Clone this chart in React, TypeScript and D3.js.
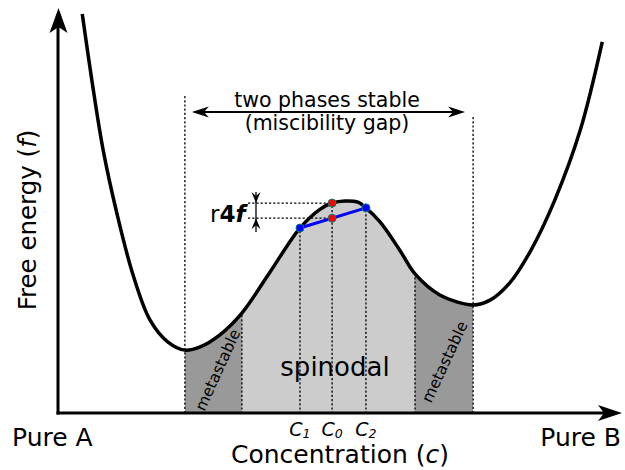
import React from 'react';
import * as d3 from 'd3';

// Free-energy curve samples: concentration c (0..1) and free energy f (0..1)
const curveC = [0.043, 0.06, 0.08, 0.105, 0.133, 0.163, 0.195, 0.225, 0.252, 0.287, 0.326, 0.376, 0.429, 0.465, 0.486, 0.509, 0.532, 0.546, 0.571, 0.606, 0.633, 0.677, 0.736, 0.766, 0.801, 0.837, 0.881, 0.926, 0.965];
const curveF = [0.99, 0.826, 0.653, 0.492, 0.343, 0.231, 0.176, 0.156, 0.164, 0.194, 0.248, 0.35, 0.459, 0.506, 0.521, 0.526, 0.523, 0.509, 0.474, 0.404, 0.345, 0.293, 0.268, 0.28, 0.323, 0.4, 0.529, 0.702, 0.921];

// Key concentrations
const binodal = [0.225, 0.736];
const spinodal = [0.326, 0.633];
const c1Idx = 12; // c1
const c0Idx = 14; // c0
const c2Idx = 17; // c2

const W = 625;
const H = 470;
const FONT = 'DejaVu Sans, sans-serif';

export default function App() {
  const x = d3.scaleLinear().domain([0, 1]).range([58, 622]);
  const y = d3.scaleLinear().domain([0, 1]).range([413, 10]);
  const pts: [number, number][] = curveC.map((c, i) => [c, curveF[i]]);
  const cr = d3.curveCatmullRom.alpha(0.5);
  const line = d3.line<[number, number]>().x(d => x(d[0])).y(d => y(d[1])).curve(cr);
  const area = d3.area<[number, number]>().x(d => x(d[0])).y0(y(0)).y1(d => y(d[1])).curve(cr);
  const linePath = line(pts) || '';
  const areaPath = area(pts) || '';

  const c1 = curveC[c1Idx], c0 = curveC[c0Idx], c2 = curveC[c2Idx];
  const f1 = curveF[c1Idx], f0 = curveF[c0Idx], f2 = curveF[c2Idx];
  const fChord = f1 + (c0 - c1) / (c2 - c1) * (f2 - f1);

  const x0 = x(0), yBase = y(0);
  const axisTop = y(1) - 2;
  const axisRight = x(1);

  const dot = { stroke: '#000', strokeWidth: 1.3, strokeDasharray: '2.2,2', fill: 'none' } as const;

  const arrowHead = (tx: number, ty: number, ang: number, len: number, hw: number, notch: number) => {
    const ux = Math.cos(ang), uy = Math.sin(ang);
    const px = -uy, py = ux;
    const bx = tx - ux * len, by = ty - uy * len;
    const nx = tx - ux * (len - notch), ny = ty - uy * (len - notch);
    return `M${tx},${ty}L${bx + px * hw},${by + py * hw}L${nx},${ny}L${bx - px * hw},${by - py * hw}Z`;
  };

  const gapY = 112;
  const gapL = x(binodal[0]) + 7;
  const gapR = x(binodal[1]) - 8;
  const dfX = 256;

  return (
    <svg width={W} height={H} style={{ position: 'absolute', left: 0, top: 0, background: '#fff' }} fontFamily={FONT}>
      <defs>
        <clipPath id="under"><path d={areaPath} /></clipPath>
        <clipPath id="meta1"><rect x={x(binodal[0])} y={0} width={x(spinodal[0]) - x(binodal[0])} height={H} /></clipPath>
        <clipPath id="spin"><rect x={x(spinodal[0])} y={0} width={x(spinodal[1]) - x(spinodal[0])} height={H} /></clipPath>
        <clipPath id="meta2"><rect x={x(spinodal[1])} y={0} width={x(binodal[1]) - x(spinodal[1])} height={H} /></clipPath>
      </defs>

      {/* fills */}
      <path d={areaPath} fill="#999999" clipPath="url(#meta1)" />
      <path d={areaPath} fill="#cccccc" clipPath="url(#spin)" />
      <path d={areaPath} fill="#999999" clipPath="url(#meta2)" />

      {/* dotted verticals under curve */}
      <g clipPath="url(#under)">
        {[spinodal[0], spinodal[1], c1, c0, c2].map((c, i) => (
          <line key={i} x1={x(c)} x2={x(c)} y1={0} y2={yBase} style={dot} />
        ))}
      </g>
      {/* binodal dotted verticals */}
      <line x1={x(binodal[0])} x2={x(binodal[0])} y1={96} y2={yBase} style={dot} />
      <line x1={x(binodal[1])} x2={x(binodal[1])} y1={117} y2={yBase} style={dot} />

      {/* horizontal dotted lines for Δf */}
      <line x1={248} x2={x(c0)} y1={y(f0)} y2={y(f0)} style={dot} />
      <line x1={248} x2={x(c0)} y1={y(fChord)} y2={y(fChord)} style={dot} />

      {/* Δf arrows */}
      <line x1={dfX} x2={dfX} y1={192} y2={232} stroke="#000" strokeWidth={1.3} />
      <path d={arrowHead(dfX, y(f0), Math.PI / 2, 11, 4.5, 4)} fill="#000" />
      <path d={arrowHead(dfX, y(fChord), -Math.PI / 2, 11, 4.5, 4)} fill="#000" />

      {/* miscibility gap arrow */}
      <line x1={gapL + 5} x2={gapR - 5} y1={gapY} y2={gapY} stroke="#000" strokeWidth={2} />
      <path d={arrowHead(gapL, gapY, Math.PI, 17, 5.5, 5)} fill="#000" />
      <path d={arrowHead(gapR, gapY, 0, 17, 5.5, 5)} fill="#000" />
      <text x={327} y={107} fontSize={20.5} textAnchor="middle">two phases stable</text>
      <text x={327} y={130} fontSize={20.5} textAnchor="middle">(miscibility gap)</text>

      {/* curve */}
      <path d={linePath} fill="none" stroke="#000" strokeWidth={3.5} strokeLinejoin="round" />

      {/* tangent chord */}
      <line x1={x(c1)} y1={y(f1)} x2={x(c2)} y2={y(f2)} stroke="#0000ff" strokeWidth={3} />
      <circle cx={x(c1)} cy={y(f1)} r={4} fill="#0000ff" stroke="#008080" strokeWidth={1} />
      <circle cx={x(c2)} cy={y(f2)} r={4} fill="#0000ff" stroke="#008080" strokeWidth={1} />
      <circle cx={x(c0)} cy={y(f0)} r={4} fill="#ff0000" stroke="#008080" strokeWidth={1} />
      <circle cx={x(c0)} cy={y(fChord)} r={4} fill="#ff0000" stroke="#008080" strokeWidth={1} />

      {/* Δf label */}
      <text x={210} y={222} fontSize={23}>
        <tspan>r</tspan><tspan fontWeight="bold">4</tspan><tspan fontWeight="bold" fontStyle="italic">f</tspan>
      </text>

      {/* region labels */}
      <text x={335} y={376} fontSize={26} textAnchor="middle">spinodal</text>
      <text transform="translate(218,370) rotate(-65.5)" fontSize={15.5} textAnchor="middle" dy={5}>metastable</text>
      <text transform="translate(445,362) rotate(-65)" fontSize={15.5} textAnchor="middle" dy={5}>metastable</text>

      {/* axes */}
      <line x1={x0} x2={x0} y1={yBase + 1.5} y2={axisTop + 18} stroke="#000" strokeWidth={3} />
      <line x1={x0 - 1.5} x2={axisRight - 16} y1={yBase} y2={yBase} stroke="#000" strokeWidth={3} />
      <path d={arrowHead(x0 + 0.5, axisTop, -Math.PI / 2, 25, 9, 6)} fill="#000" />
      <path d={arrowHead(axisRight, yBase, 0, 24, 8, 6)} fill="#000" />

      {/* concentration labels */}
      <text x={x(c1)} y={436} fontSize={19} textAnchor="middle" fontStyle="italic">C<tspan fontSize={12.5} dy={2}>1</tspan></text>
      <text x={x(c0)} y={436} fontSize={19} textAnchor="middle" fontStyle="italic">C<tspan fontSize={12.5} dy={2}>0</tspan></text>
      <text x={x(c2)} y={436} fontSize={19} textAnchor="middle" fontStyle="italic">C<tspan fontSize={12.5} dy={2}>2</tspan></text>

      {/* axis labels */}
      <text x={12} y={446} fontSize={25} >Pure A</text>
      <text x={621} y={446} fontSize={25} textAnchor="end">Pure B</text>
      <text x={340} y={463} fontSize={25} textAnchor="middle">Concentration (<tspan fontStyle="italic">c</tspan>)</text>
      <text transform="translate(36,220) rotate(-90)" fontSize={24.5} textAnchor="middle">Free energy (<tspan fontStyle="italic">f</tspan>)</text>
    </svg>
  );
}
